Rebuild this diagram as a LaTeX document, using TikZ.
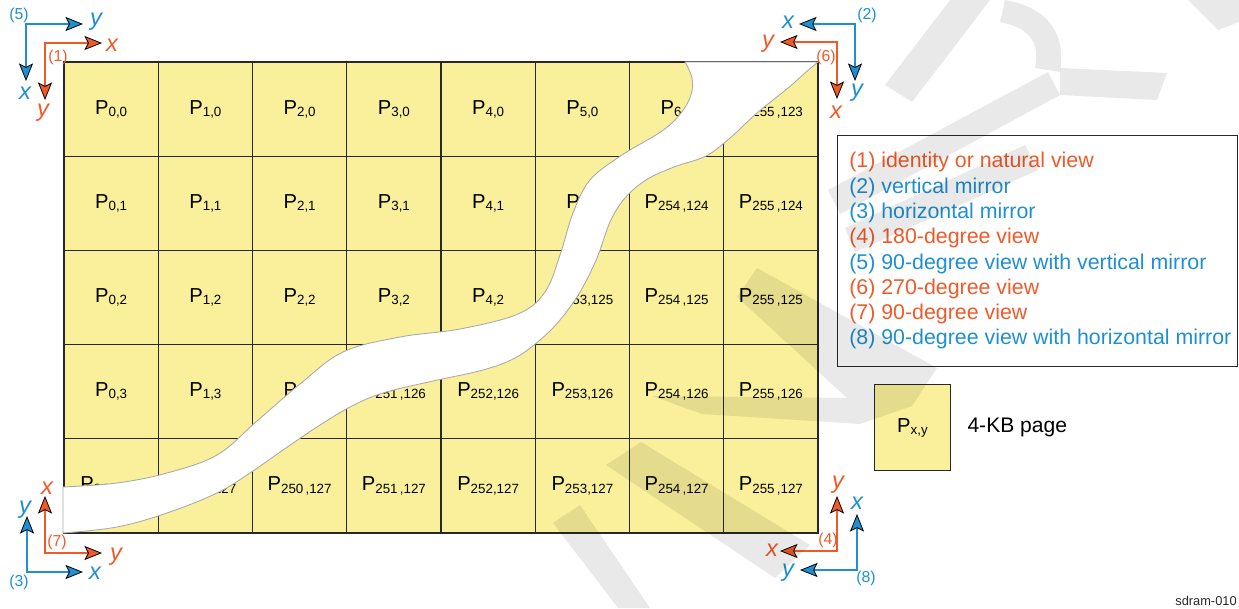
\documentclass[tikz,border=0pt]{standalone}
\usepackage{fontspec}
\setmainfont{Liberation Sans}
\usetikzlibrary{positioning,arrows.meta,calc}
\definecolor{pageyellow}{RGB}{250,240,155}
\definecolor{gridline}{RGB}{40,40,40}
\definecolor{vieworange}{RGB}{240,90,40}
\definecolor{viewblue}{RGB}{30,143,208}
\definecolor{tearline}{RGB}{170,170,170}

% page label with a slightly lowered index
\newcommand{\pg}[1]{P\raisebox{-1.2pt}{\fontsize{7.6}{8}\selectfont #1}}

\tikzset{
  otip/.tip={Stealth[length=0.35cm, width=0.28cm, inset=0.07cm, color=black, fill=vieworange, line width=0.45pt]},
  btip/.tip={Stealth[length=0.35cm, width=0.28cm, inset=0.07cm, color=black, fill=viewblue, line width=0.45pt]},
}

\begin{document}
\begin{tikzpicture}[x=0.02cm, y=-0.02cm,
  page/.style={draw=gridline, fill=pageyellow, line width=0.75pt, minimum width=1.885cm,
    minimum height=1.884cm, inner sep=0pt, font=\fontsize{11.5}{13}\selectfont},
  tear/.style={fill=white, draw=tearline, line width=0.5pt},
  oaxis/.style={vieworange, line width=0.8pt, otip-otip},
  baxis/.style={viewblue, line width=0.8pt, btip-btip},
  axlbl/.style={font=\fontsize{13.5}{13.5}\selectfont\itshape, inner sep=0pt},
  num/.style={font=\fontsize{9}{9}\selectfont, inner sep=0pt},
  legendbox/.style={draw=gridline, line width=0.7pt, anchor=north west, inner sep=0pt},
  wm/.style={fill=black, opacity=0.085},
]
\useasboundingbox (0,0) rectangle (1239,608);

% ---- page grid (8 columns x 5 rows) ----
\foreach \s [count=\i from 0] in {{0,0},{1,0},{2,0},{3,0},{4,0},{5,0},{6,0},{255\,,123}}
  \node[page] (p\i-0) at ({64+94.25*(\i+0.5)},{62+94.2*0.5}) {\pg{\s}};
\foreach \s [count=\i from 0] in {{0,1},{1,1},{2,1},{3,1},{4,1},{5,1},{254\,,124},{255\,,124}}
  \node[page] (p\i-1) at ({64+94.25*(\i+0.5)},{62+94.2*1.5}) {\pg{\s}};
\foreach \s [count=\i from 0] in {{0,2},{1,2},{2,2},{3,2},{4,2},{253,125},{254\,,125},{255\,,125}}
  \node[page] (p\i-2) at ({64+94.25*(\i+0.5)},{62+94.2*2.5}) {\pg{\s}};
\foreach \s [count=\i from 0] in {{0,3},{1,3},{2,3},{251\,,126},{252,126},{253,126},{254\,,126},{255\,,126}}
  \node[page] (p\i-3) at ({64+94.25*(\i+0.5)},{62+94.2*3.5}) {\pg{\s}};
\foreach \s [count=\i from 0] in {{248,127},{249,127},{250\,,127},{251\,,127},{252,127},{253,127},{254\,,127},{255\,,127}}
  \node[page] (p\i-4) at ({64+94.25*(\i+0.5)},{62+94.2*4.5}) {\pg{\s}};

% ---- torn-out strip ----
\path[tear] plot[smooth, tension=0.6] coordinates {(63,487) (117,483) (167,473) (217,455)
    (257,421) (300,384) (343,352) (400,337) (460,329) (518,314) (545,292) (560,255)
    (573,213) (590,180) (622,155) (662,131) (681,113) (691,95) (692,78) (685,62)}
  -- plot[smooth, tension=0.6] coordinates {(818,62) (806,72) (788,88) (757,113)
    (730,138) (706,156) (674,167) (646,180) (625,198) (610,222) (597,258) (580,292) (560,320)
    (540,340) (515,358) (483,370) (433,381) (383,393) (350,407) (317,427) (283,450)
    (250,473) (217,493) (167,513) (117,527) (63,533)}
  -- cycle;

% ---- view axes ----
% (5) and (1), top left
\coordinate (c5) at (26,24);   \coordinate (c5y) at (83,24);   \coordinate (c5x) at (26,81);
\coordinate (c1) at (45,43);   \coordinate (c1x) at (102,43);  \coordinate (c1y) at (45,100);
\draw[baxis] (c5y) -- (c5) -- (c5x);
\draw[oaxis] (c1x) -- (c1) -- (c1y);
\node[axlbl, viewblue]   (l5y) at (96,22)  {y};
\node[axlbl, viewblue]   (l5x) at (25,93)  {x};
\node[axlbl, vieworange] (l1x) at (112,45) {x};
\node[axlbl, vieworange] (l1y) at (43,113) {y};
\node[num, viewblue]   (n5) at (19,15) {(5)};
\node[num, vieworange] (n1) at (58,57) {(1)};

% (2) and (6), top right
\coordinate (c2) at (855,24);  \coordinate (c2x) at (799,24);  \coordinate (c2y) at (855,81);
\coordinate (c6) at (837,42);  \coordinate (c6y) at (780,42);  \coordinate (c6x) at (837,99);
\draw[baxis] (c2x) -- (c2) -- (c2y);
\draw[oaxis] (c6y) -- (c6) -- (c6x);
\node[axlbl, viewblue]   (l2x) at (788,22)  {x};
\node[axlbl, viewblue]   (l2y) at (857,93)  {y};
\node[axlbl, vieworange] (l6y) at (768,44)  {y};
\node[axlbl, vieworange] (l6x) at (836,112) {x};
\node[num, viewblue]   (n2) at (867,15) {(2)};
\node[num, vieworange] (n6) at (826,57) {(6)};

% (7) and (3), bottom left
\coordinate (c7) at (45,553);  \coordinate (c7x) at (45,496);  \coordinate (c7y) at (102,553);
\coordinate (c3) at (27,572);  \coordinate (c3y) at (27,516);  \coordinate (c3x) at (83,572);
\draw[oaxis] (c7x) -- (c7) -- (c7y);
\draw[baxis] (c3y) -- (c3) -- (c3x);
\node[axlbl, vieworange] (l7x) at (47,488)  {x};
\node[axlbl, vieworange] (l7y) at (116,557) {y};
\node[axlbl, viewblue]   (l3y) at (25,510)  {y};
\node[axlbl, viewblue]   (l3x) at (95,573)  {x};
\node[num, vieworange] (n7) at (57,542) {(7)};
\node[num, viewblue]   (n3) at (19,582) {(3)};

% (4) and (8), bottom right
\coordinate (c4) at (837,551); \coordinate (c4y) at (837,496); \coordinate (c4x) at (780,551);
\coordinate (c8) at (857,570); \coordinate (c8x) at (857,514); \coordinate (c8y) at (800,570);
\draw[oaxis] (c4y) -- (c4) -- (c4x);
\draw[baxis] (c8x) -- (c8) -- (c8y);
\node[axlbl, vieworange] (l4y) at (838,485) {y};
\node[axlbl, vieworange] (l4x) at (772,550) {x};
\node[axlbl, viewblue]   (l8x) at (857,503) {x};
\node[axlbl, viewblue]   (l8y) at (788,573) {y};
\node[num, vieworange] (n4) at (828,540) {(4)};
\node[num, viewblue]   (n8) at (866,578) {(8)};

% ---- legend ----
\node[legendbox, minimum width=8cm, minimum height=4.62cm] (legend) at (837,135) {};
\node[anchor=north west, align=left, inner sep=0pt, font=\fontsize{12.15}{14.4}\selectfont]
  (legendtxt) at (849,152)
  {\textcolor{vieworange}{(1) identity or natural view}\\
   \textcolor{viewblue}{(2) vertical mirror}\\
   \textcolor{viewblue}{(3) horizontal mirror}\\
   \textcolor{vieworange}{(4) 180-degree view}\\
   \textcolor{viewblue}{(5) 90-degree view with vertical mirror}\\
   \textcolor{vieworange}{(6) 270-degree view}\\
   \textcolor{vieworange}{(7) 90-degree view}\\
   \textcolor{viewblue}{(8) 90-degree view with horizontal mirror}};

\node[page, minimum width=1.52cm, minimum height=1.71cm] (key) at (912.5,427.5) {\pg{x,y}};
\node[right=0.32cm of key, inner sep=0pt, font=\fontsize{12}{14}\selectfont] (keytxt) {4-KB page};

\node[anchor=base east, inner sep=0pt, font=\fontsize{7.3}{8}\selectfont, text=gridline]
  (figid) at (1237,605) {sdram-010};

% ---- watermark ----
\fill[wm] (757,268) -- (937,368) -- (912,406) -- (860,424) -- (702,414) -- (652,396)
  -- (847,398) -- (737,297) -- cycle;
\fill[wm] (606,465) -- (641,442) -- (810,545) -- (775,578) -- cycle;
\fill[wm] (553,523) -- (580,505) -- (650,608) -- (618,608) -- cycle;
\fill[wm] (828,190) -- (1048,72) -- (1060,95) -- (840,214) -- cycle;
\fill[wm] (845,228) -- (1025,145) -- (1038,170) -- (855,252) -- cycle;
\fill[wm] (885,85) -- (950,0) -- (990,0) -- (912,102) -- cycle;
\fill[wm] (1005,0) .. controls (1050,8) and (1066,35) .. (1060,72) -- (1035,68)
  .. controls (1040,42) and (1030,28) .. (1000,22) -- cycle;
\fill[wm] (1060,68) -- (1167,73) -- (1157,100) -- (1060,95) -- cycle;
\fill[wm] (1188,0) -- (1239,0) -- (1239,22) -- (1218,30) -- cycle;
\end{tikzpicture}
\end{document}
